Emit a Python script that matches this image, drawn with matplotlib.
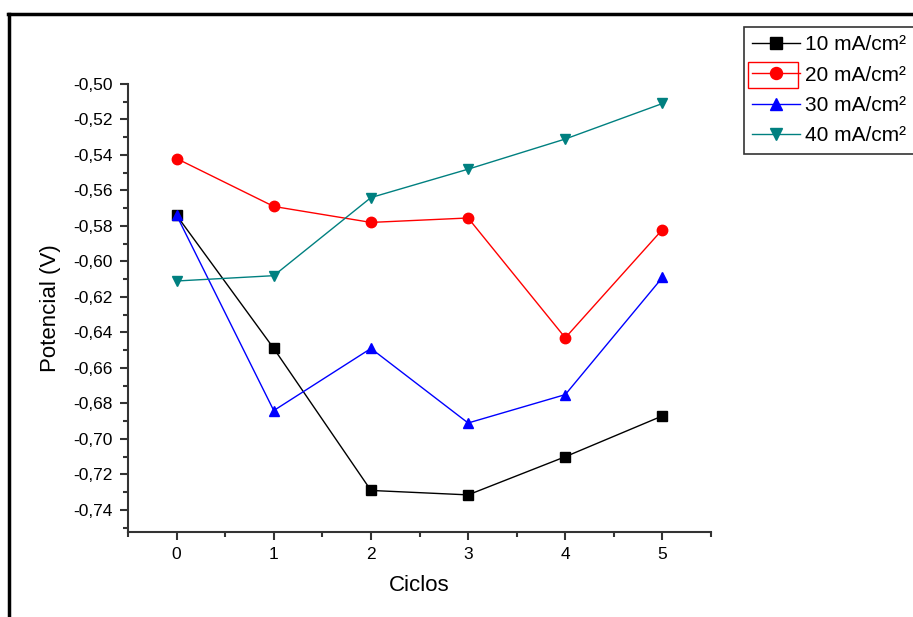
import matplotlib.pyplot as plt
from matplotlib.ticker import FuncFormatter, MultipleLocator
from matplotlib.lines import Line2D
from matplotlib.patches import Rectangle

plt.rcParams['font.family'] = ['Liberation Sans', 'DejaVu Sans']

ciclos = [0, 1, 2, 3, 4, 5]
labels = ['10 mA/cm²', '20 mA/cm²', '30 mA/cm²', '40 mA/cm²']
v10 = [-0.574, -0.649, -0.729, -0.7315, -0.710, -0.687]
v20 = [-0.542, -0.569, -0.578, -0.5755, -0.643, -0.582]
v30 = [-0.574, -0.684, -0.649, -0.691, -0.675, -0.609]
v40 = [-0.611, -0.608, -0.564, -0.548, -0.531, -0.511]

colors = ['black', 'red', 'blue', '#008080']
markers = ['s', 'o', '^', 'v']

fig = plt.figure(figsize=(9.13, 6.17), dpi=100)
ax = fig.add_axes([0.1402, 0.1378, 0.6386, 0.7261])

for vals, c, m, lab in zip([v10, v20, v30, v40], colors, markers, labels):
    ax.plot(ciclos, vals, color=c, marker=m, markersize=7.5, linewidth=1, label=lab)

ax.set_xlim(-0.5, 5.5)
ax.set_ylim(-0.7524, -0.50)
ax.xaxis.set_major_locator(MultipleLocator(1))
ax.xaxis.set_minor_locator(MultipleLocator(0.5))
ax.yaxis.set_major_locator(MultipleLocator(0.02))
ax.yaxis.set_minor_locator(MultipleLocator(0.01))
ax.yaxis.set_major_formatter(FuncFormatter(lambda v, p: ('%.2f' % v).replace('.', ',')))
ax.xaxis.set_major_formatter(FuncFormatter(lambda v, p: '%d' % v))

for s in ['top', 'right']:
    ax.spines[s].set_visible(False)
for s in ['left', 'bottom']:
    ax.spines[s].set_color('#333333')
    ax.spines[s].set_linewidth(1.5)
ax.tick_params(which='major', direction='out', length=6, width=1.5, color='#333333', labelsize=12.5, pad=5)
ax.tick_params(which='minor', direction='out', length=3.5, width=1.5, color='#333333')

ax.set_xlabel('Ciclos', fontsize=16, labelpad=9)
ax.set_ylabel('Potencial (V)', fontsize=16, labelpad=9)

leg = ax.legend(loc='upper left', bbox_to_anchor=(0.815, 0.956), bbox_transform=fig.transFigure,
                borderaxespad=0, fancybox=False, edgecolor='#333333', fontsize=15,
                handlelength=2.3, handletextpad=0.2, labelspacing=0.54, borderpad=0.4,
                framealpha=1, markerscale=1.15)
leg.get_frame().set_linewidth(1.2)

# red selection box round the 20 mA/cm2 handle
fig.patches.append(Rectangle((748 / 913, 1 - 88 / 617), 50 / 913, 26 / 617,
                             transform=fig.transFigure, fill=False, edgecolor='red', linewidth=1))

# outer frame (top and left)
fig.add_artist(Line2D([8 / 913, 1], [1 - 14 / 617, 1 - 14 / 617], transform=fig.transFigure, color='black', linewidth=2.5))
fig.add_artist(Line2D([9 / 913, 9 / 913], [1 - 14 / 617, 0], transform=fig.transFigure, color='black', linewidth=2.5))

fig.savefig('out.png', dpi=100)
